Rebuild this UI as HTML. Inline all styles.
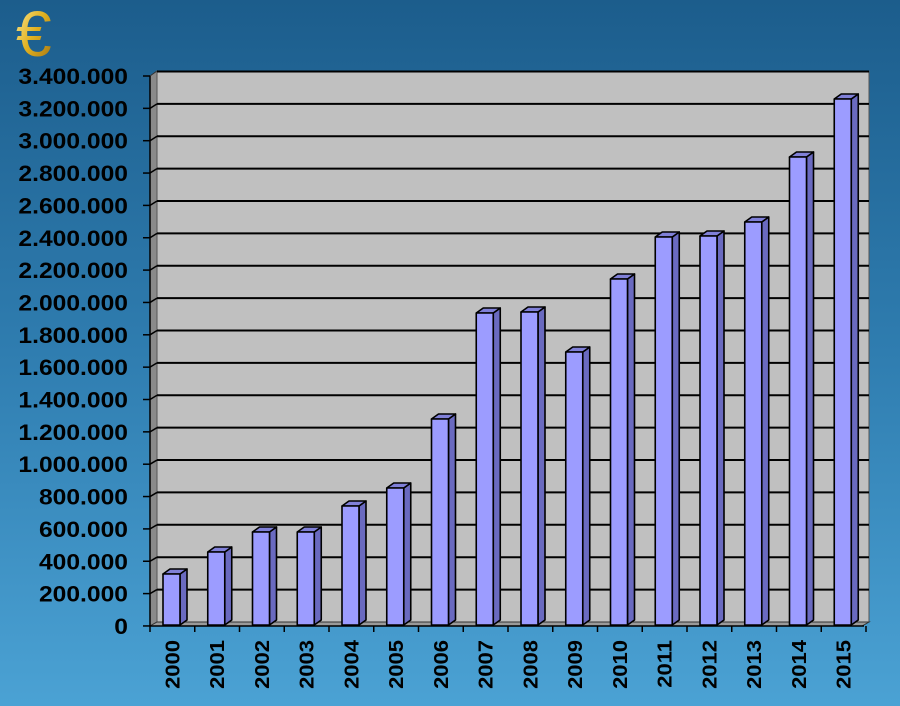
<!DOCTYPE html>
<html><head><style>
html,body{margin:0;padding:0;width:900px;height:706px;overflow:hidden;}
body{background:linear-gradient(#1c5d8c,#2f7db0 50%,#4ba2d4);}
svg{display:block;}
svg text{font-family:"Liberation Sans",sans-serif;font-weight:bold;fill:#000;}
</style></head><body>
<svg width="900" height="706" viewBox="0 0 900 706" xmlns="http://www.w3.org/2000/svg">
<defs>
<linearGradient id="g" x1="0" y1="0" x2="1" y2="1"><stop offset="0" stop-color="#fff0a0"/><stop offset="0.5" stop-color="#e0b020"/><stop offset="1" stop-color="#a07010"/></linearGradient>
</defs>
<text x="16" y="56" font-size="64" style="fill:url(#g);font-weight:normal">€</text>
<polygon points="150,76 157,71 157,622 150,626" fill="#8a8a8a" stroke="#333" stroke-width="1"/>
<rect x="157" y="71" width="712" height="551" fill="#c0c0c0" stroke="#555" stroke-width="1"/>
<polygon points="150,626 157,622 869,622 862,626" fill="#9a9a9a" stroke="#333" stroke-width="1"/>
<g id="grid" stroke="#000" stroke-width="2"></g>
<g id="bars" stroke="#000" stroke-width="1.6" stroke-linejoin="round"></g>
<line x1="150" y1="626" x2="864" y2="626" stroke="#000" stroke-width="1.5"/>
<line x1="150" y1="76" x2="150" y2="626" stroke="#000" stroke-width="1.5"/>
<g id="lab"></g>
</svg>
<script>
var ns="http://www.w3.org/2000/svg";
function el(t,a,p,txt){var e=document.createElementNS(ns,t);for(var k in a)e.setAttribute(k,a[k]);if(txt!=null)e.textContent=txt;document.getElementById(p).appendChild(e);return e;}
var step=32.35;
var names=["3.400.000","3.200.000","3.000.000","2.800.000","2.600.000","2.400.000","2.200.000","2.000.000","1.800.000","1.600.000","1.400.000","1.200.000","1.000.000","800.000","600.000","400.000","200.000","0"];
for(var i=0;i<=17;i++){
 var yb=71.5+i*step*(550.5/550), yf=76+i*step;
 if(i<17) el("line",{x1:157,y1:yb,x2:869,y2:yb},"grid");
 if(i>0&&i<17) el("line",{x1:150,y1:yf,x2:157,y2:yb,"stroke-width":1.5},"grid");
 el("line",{x1:143,y1:yf,x2:150,y2:yf,stroke:"#000","stroke-width":1.5},"lab");
 el("text",{x:0,y:0,"font-size":"22","text-anchor":"end",transform:"translate(128,"+(yf+8)+") scale(1.12,1)"},"lab",names[i]);
}
var tops=[574,552,532,532,506,488,419,313,312,352,279,237,236,222,157,99];
var cw=44.75;
for(var j=0;j<16;j++){
 var x=163+j*cw,w=17,d=7,dy=5,t=tops[j],b=625;
 el("polygon",{points:(x+w)+","+t+" "+(x+w+d)+","+(t-dy)+" "+(x+w+d)+","+(b-dy)+" "+(x+w)+","+b,fill:"#6a6ac0"},"bars");
 el("polygon",{points:x+","+t+" "+(x+d)+","+(t-dy)+" "+(x+w+d)+","+(t-dy)+" "+(x+w)+","+t,fill:"#8080d8"},"bars");
 el("rect",{x:x,y:t,width:w,height:b-t,fill:"#9c9cff"},"bars");
 var cx=150+(j+0.5)*cw, tx=150+(j+1)*cw;
 el("line",{x1:tx,y1:626,x2:tx,y2:632,stroke:"#000","stroke-width":1.5},"lab");
 if(j==0) el("line",{x1:150,y1:626,x2:150,y2:632,stroke:"#000","stroke-width":1.5},"lab");
 el("text",{x:0,y:0,"font-size":"20","text-anchor":"end",transform:"translate("+(cx+7)+",640) rotate(-90) scale(1.1,1)"},"lab",String(2000+j));
}
</script>
</body></html>
